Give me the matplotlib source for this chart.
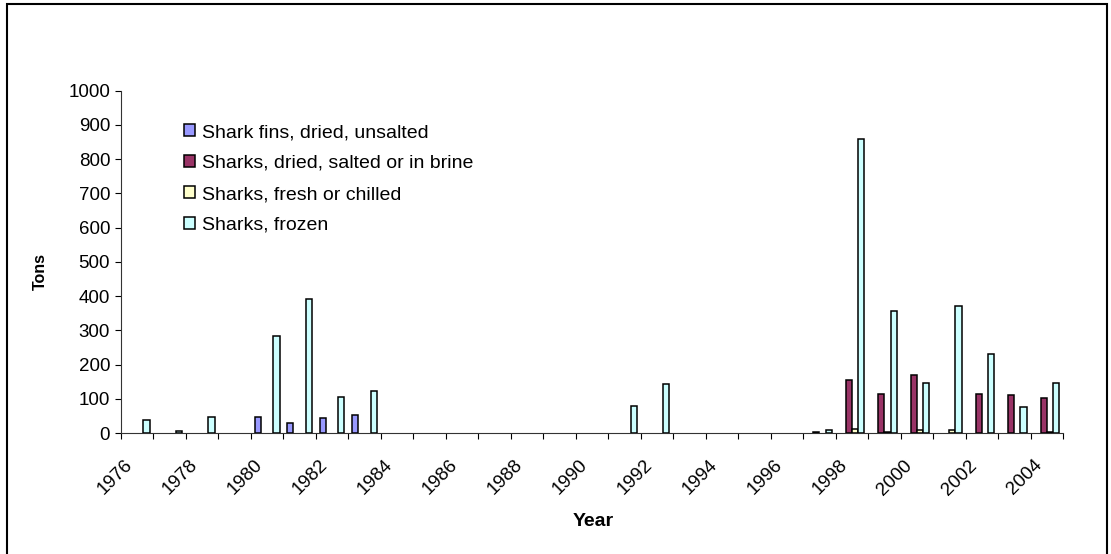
import matplotlib.pyplot as plt
import numpy as np
from matplotlib.patches import Rectangle
import matplotlib.transforms as mtransforms

plt.rcParams['font.family'] = ['Liberation Sans', 'DejaVu Sans']

years = list(range(1976, 2005))
series_names = ['Shark fins, dried, unsalted',
                'Sharks, dried, salted or in brine',
                'Sharks, fresh or chilled',
                'Sharks, frozen']

#              1976..                                                     ..2004
fins_dried =   [0, 0, 0, 0, 48, 30, 43, 54, 0, 0, 0, 0, 0, 0, 0, 0, 0, 0, 0, 0, 0, 0, 0, 0, 0, 0, 0, 0, 0]
dried_salted = [0, 0, 0, 0, 0, 0, 0, 0, 0, 0, 0, 0, 0, 0, 0, 0, 0, 0, 0, 0, 0, 2, 156, 115, 169, 0, 115, 110, 103]
fresh_chilled = [0, 0, 0, 0, 0, 0, 0, 0, 0, 0, 0, 0, 0, 0, 0, 0, 0, 0, 0, 0, 0, 0, 13, 3, 9, 9, 0, 0, 2]
frozen =       [38, 7, 48, 0, 284, 392, 106, 124, 0, 0, 0, 0, 0, 0, 0, 80, 143, 0, 0, 0, 0, 9, 859, 357, 147, 371, 232, 76, 147]

colors = ['#9999FF', '#993366', '#FFFFCC', '#CCFFFF']

W, H = 1111, 554
fig = plt.figure(figsize=(W / 100, H / 100), dpi=100)
ax = fig.add_axes([121 / W, 121 / H, (1063 - 121) / W, (463.3 - 121) / H])

x = np.arange(len(years))
width = 0.19
all_series = [fins_dried, dried_salted, fresh_chilled, frozen]
for k, (vals, col, name) in enumerate(zip(all_series, colors, series_names)):
    vals = np.array(vals, dtype=float)
    keep = vals > 0
    ax.bar(x[keep] + (k - 1.5) * width, vals[keep], width, color=col,
           edgecolor='black', linewidth=1.1, label=name, zorder=3)

ax.set_xlim(-0.5, len(years) - 0.5)
ax.set_ylim(0, 1000)
ax.set_yticks(np.arange(0, 1001, 100))
ax.tick_params(axis='y', labelsize=13.5, length=4.3, width=0.8, pad=3.5)

# tick marks between categories, labels on every other year
ax.set_xticks(np.arange(-0.5, len(years), 1.0))
ax.set_xticklabels([])
ax.tick_params(axis='x', which='major', length=4.3, width=0.8)
ax.set_xticks(x[::2], minor=True)
ax.set_xticklabels([str(y) for y in years[::2]], minor=True, rotation=45,
                   ha='right', va='top', rotation_mode='anchor', fontsize=13.5)
ax.tick_params(axis='x', which='minor', length=0, pad=17)
offset = mtransforms.ScaledTranslation(-0.13, 0, fig.dpi_scale_trans)
for lab in ax.get_xticklabels(minor=True):
    lab.set_transform(lab.get_transform() + offset)

for s in ['top', 'right']:
    ax.spines[s].set_visible(False)
for s in ['left', 'bottom']:
    ax.spines[s].set_linewidth(0.8)
    ax.spines[s].set_color('#333333')

fig.text(40 / W, 1 - 272 / H, 'Tons', rotation=90, fontsize=11.5, fontweight='bold',
         ha='center', va='center')
fig.text(593 / W, 1 - 521 / H, 'Year', fontsize=14, fontweight='bold',
         ha='center', va='center')

fig.legend(loc='upper left', bbox_to_anchor=(184 / W, 1 - 124 / H), frameon=False,
           fontsize=14, handlelength=0.55, handleheight=0.55, handletextpad=0.35,
           labelspacing=0.72, borderpad=0, borderaxespad=0)

fig.patches.append(Rectangle((7 / W, -0.05), (1107 - 7) / W, 1.05 - 3.5 / H,
                             transform=fig.transFigure, fill=False,
                             edgecolor='black', linewidth=1.5))

fig.savefig('out.png', dpi=100)
